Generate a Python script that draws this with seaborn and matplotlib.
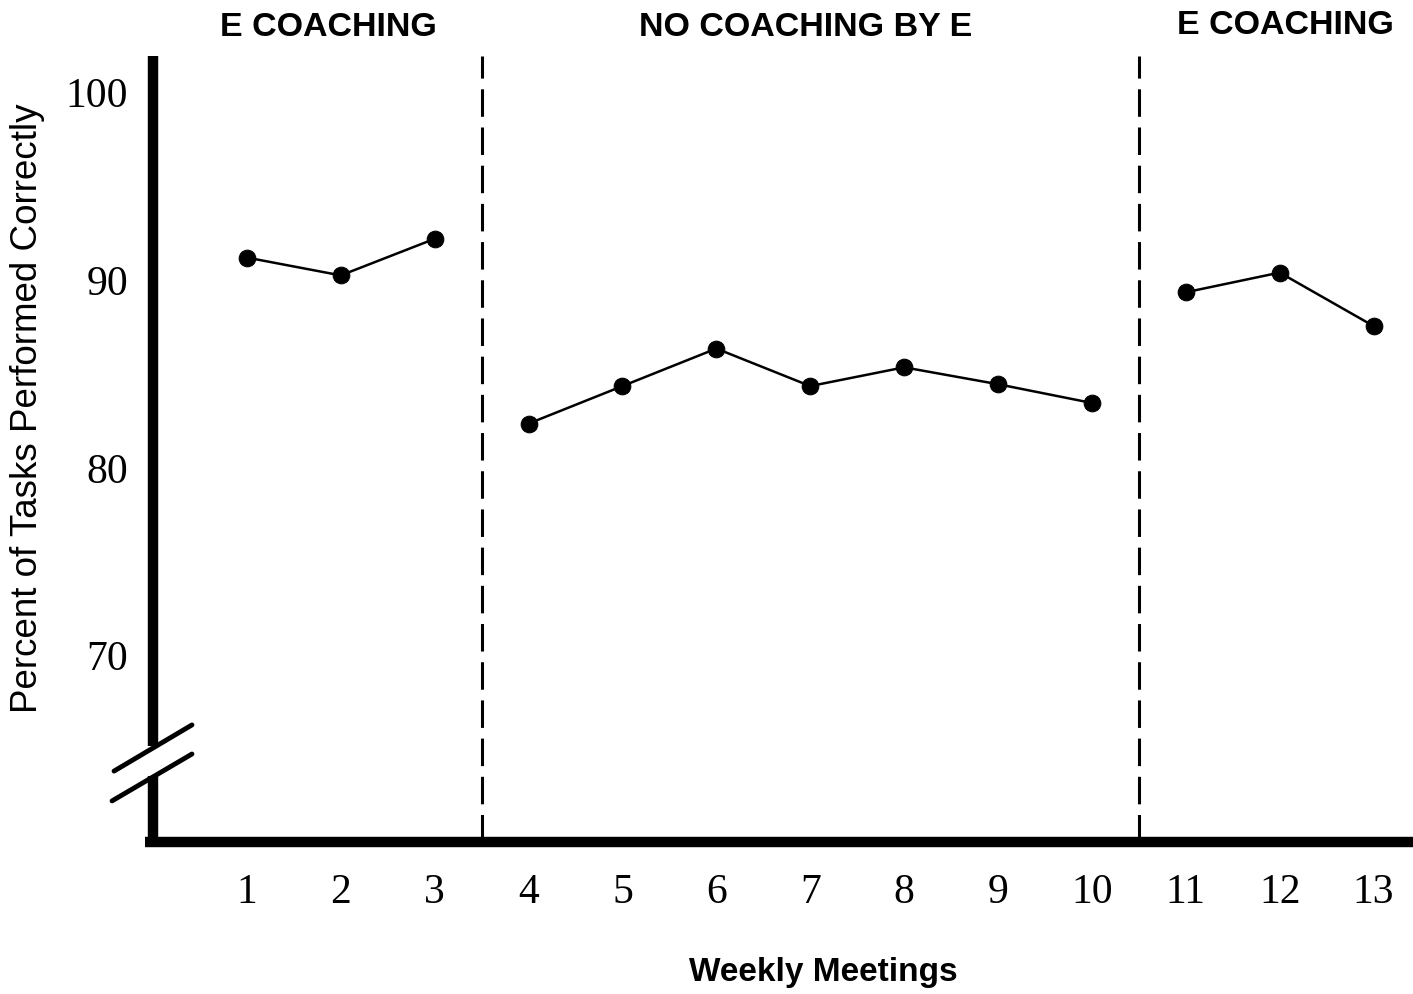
import matplotlib
matplotlib.use("Agg")
import matplotlib.pyplot as plt
import seaborn as sns
import pandas as pd
from matplotlib import font_manager

weeks = [1, 2, 3, 4, 5, 6, 7, 8, 9, 10, 11, 12, 13]
percent = [91.15, 90.2, 92.15, 82.3, 84.3, 86.3, 84.3, 85.3, 84.4, 83.4, 89.3, 90.35, 87.5]
phase = ["A1", "A1", "A1", "B", "B", "B", "B", "B", "B", "B", "A2", "A2", "A2"]
phase_labels = ["E COACHING", "NO COACHING BY E", "E COACHING"]
phase_breaks = [3.5, 10.5]
y_ticks = [70, 80, 90, 100]

df = pd.DataFrame({"week": weeks, "pct": percent, "phase": phase})

sns.set_theme(style="white")
plt.rcParams["font.family"] = ["Liberation Sans", "DejaVu Sans"]
plt.rcParams["text.color"] = "black"
plt.rcParams["xtick.color"] = "black"
plt.rcParams["ytick.color"] = "black"

names = {f.name for f in font_manager.fontManager.ttflist}
num_font = "Liberation Serif"
for cand in ["Liberation Sans Narrow", "Liberation Serif"]:
    if cand in names:
        num_font = cand
        break

fig = plt.figure(figsize=(14.13, 9.95), dpi=100)
ax = fig.add_axes([153 / 1413, 1 - 843 / 995, 1 - 153 / 1413, (843 - 55) / 995])

sns.lineplot(data=df, x="week", y="pct", hue="phase",
             palette={"A1": "black", "B": "black", "A2": "black"},
             marker="o", markersize=12, markeredgecolor="black",
             linewidth=1.8, legend=False, ax=ax, clip_on=False, zorder=5)

ax.set_xlim(0, 13.42)
ax.set_ylim(60, 102)

for s in ax.spines.values():
    s.set_visible(False)

# heavy axes, left one broken
lw_axis = 7.5
ax.plot([0, 0], [65.1, 101.9], color="black", lw=lw_axis, solid_capstyle="butt", clip_on=False)
ax.plot([0, 0], [60, 63.5], color="black", lw=lw_axis, solid_capstyle="butt", clip_on=False)
ax.plot([-0.085, 13.42], [60, 60], color="black", lw=lw_axis, solid_capstyle="butt", clip_on=False)
# break marks
ax.plot([-0.415, 0.415], [63.78, 66.24], color="black", lw=3.5, clip_on=False)
ax.plot([-0.436, 0.415], [62.19, 64.69], color="black", lw=3.5, clip_on=False)

for xb in phase_breaks:
    ax.plot([xb, xb], [60, 101.9], color="black", lw=2.2,
            linestyle=(0, (9, 3.5)), clip_on=False)

ax.set_xticks(weeks)
ax.set_xticklabels([str(w) for w in weeks], fontsize=30, family=num_font)
ax.set_yticks(y_ticks)
ax.set_yticklabels([str(v) for v in y_ticks], fontsize=30, family=num_font)
ax.tick_params(axis="x", length=0, pad=22)
ax.tick_params(axis="y", length=0, pad=18)

ax.set_xlabel("")
ax.set_ylabel("")
fig.text(823 / 1413, 1 - 972 / 995, "Weekly Meetings", ha="center", va="center",
         fontsize=24, fontweight="bold")
fig.text(28 / 1413, 1 - 408 / 995, "Percent of Tasks Performed Correctly", ha="center",
         va="center", rotation=90, fontsize=26.5)

title_x = [328, 806, 1285]
title_y = [28, 27, 25]
for lab, tx, ty in zip(phase_labels, title_x, title_y):
    fig.text(tx / 1413, 1 - ty / 995, lab, ha="center", va="center",
             fontsize=24.5, fontweight="bold")

fig.savefig("out.png", dpi=100)
